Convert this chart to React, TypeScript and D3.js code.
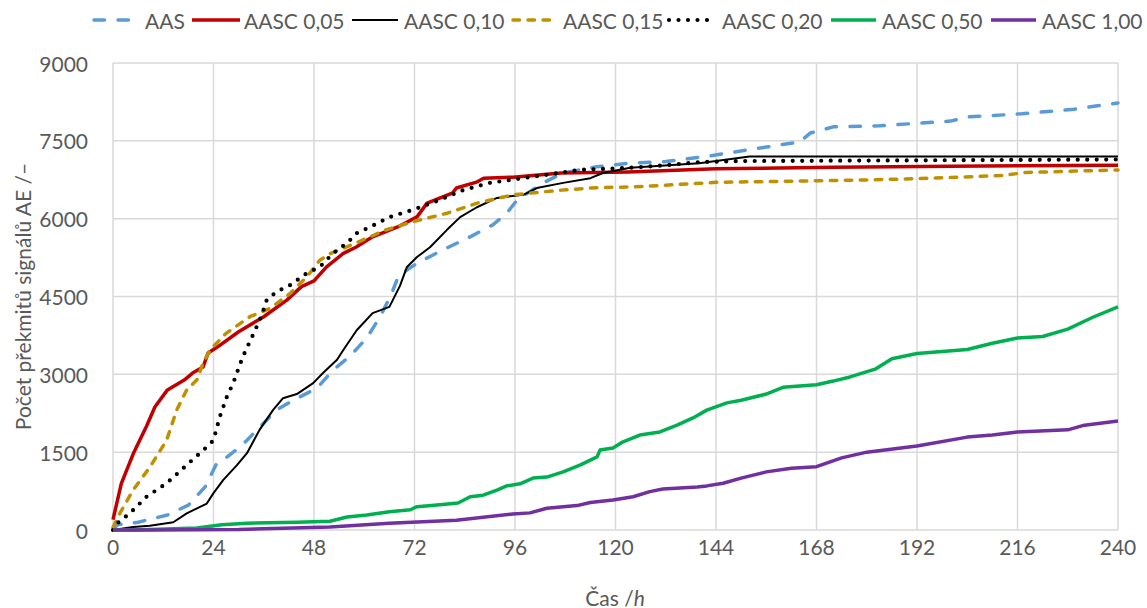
import React from "react";
import * as d3 from "d3";

const xTicks = [0, 24, 48, 72, 96, 120, 144, 168, 192, 216, 240];
const yTicks = [0, 1500, 3000, 4500, 6000, 7500, 9000];

const aas = [[0,0],[1,100],[6,150],[13,290],[18,480],[22,830],[24.8,1290],[27,1390],[30.3,1600],[32,1730],[34.4,1930],[39,2310],[43,2500],[48.7,2730],[52.5,3080],[56.6,3350],[60.6,3700],[63.8,4110],[66.5,4550],[67.8,4820],[70,5000],[72.6,5140],[78.8,5400],[85.3,5650],[90.7,5880],[94,6100],[96.5,6360],[102.7,6690],[107.5,6880],[115.5,7000],[123.5,7070],[132,7100],[142.5,7210],[148,7280],[156,7380],[164,7480],[166.5,7650],[172,7770],[183,7790],[200,7880],[204,7960],[217,8020],[229.5,8110],[240,8230]];
const aasc005 = [[0,200],[2,900],[5,1500],[8,2000],[10,2370],[13,2700],[17,2890],[19,3025],[21.5,3140],[22.7,3410],[25,3530],[30,3820],[36,4110],[41.5,4430],[45,4690],[48,4800],[51,5070],[55,5330],[58,5450],[62,5650],[68,5840],[72.6,6035],[75,6300],[81,6490],[82,6590],[87,6710],[88.5,6780],[95.5,6800],[107,6880],[123,6900],[144,6960],[172,6990],[200,7010],[240,7030]];
const aasc010 = [[0,0],[4.8,60],[8.8,80],[14.4,150],[17.6,320],[22.4,510],[24,710],[26.3,960],[29.6,1250],[32,1480],[35,1930],[38.2,2310],[40.6,2540],[43.9,2620],[47.8,2830],[50.2,3030],[53.5,3280],[55,3470],[58.2,3850],[62,4180],[66,4300],[68.5,4700],[70.2,5070],[72.6,5260],[75.7,5450],[79.7,5780],[82.9,6030],[86.9,6220],[91.7,6400],[98,6460],[101.2,6590],[107.5,6690],[114,6780],[117,6880],[123.5,6980],[140,7070],[152,7200],[240,7200]];
const aasc015 = [[0,50],[1.7,330],[4.8,770],[8.8,1210],[12.8,1730],[15.2,2310],[17.6,2700],[20,2890],[21.5,3210],[23.2,3470],[27,3790],[32.7,4110],[37.5,4270],[42.3,4560],[46.3,4880],[49.4,5200],[52,5330],[58,5530],[65,5780],[71.6,5940],[80,6110],[87,6300],[95.5,6460],[107,6550],[116,6600],[124,6610],[144,6700],[176,6740],[192,6770],[212,6830],[218,6890],[240,6940]];
const aasc020 = [[0,0],[1,130],[4,320],[8,640],[12.8,900],[18.4,1310],[22.4,1600],[24,1730],[25.5,2180],[27.2,2570],[28.7,2830],[31,3340],[33.2,3720],[35.5,4130],[36.7,4430],[39,4590],[42.3,4720],[46.3,4950],[49.4,5070],[52.5,5330],[55.9,5530],[58.2,5720],[61.4,5840],[66,6030],[71.6,6170],[78,6360],[83.6,6550],[90,6690],[99.6,6800],[111.5,6940],[123.5,6980],[132,7030],[140,7090],[150,7110],[240,7140]];
const aasc050 = [[0,0],[5,0],[20,40],[26,100],[32,130],[44,150],[51.8,170],[55.9,250],[60.6,290],[66,350],[71,390],[72.6,450],[77.4,480],[82.4,520],[85.3,640],[88.4,670],[91.7,770],[94,850],[97.2,890],[100.3,1000],[103.6,1020],[107.5,1120],[111.5,1250],[115.6,1410],[116.3,1540],[119.4,1580],[121.8,1700],[125.8,1830],[130.6,1890],[134.7,2020],[138.5,2160],[141.8,2310],[146.6,2450],[150,2500],[156,2620],[160,2750],[168,2800],[172,2870],[176,2950],[182,3100],[186,3300],[192,3400],[204,3480],[210,3600],[216,3700],[222,3730],[228,3870],[234,4100],[240,4300]];
const aasc100 = [[0,0],[10,0],[30,10],[51.8,60],[66,130],[82,190],[95.5,310],[99.6,330],[103.6,420],[110.8,470],[114,530],[119.4,580],[124.2,640],[128.2,740],[131.3,790],[139.5,830],[141.8,850],[145.7,900],[150,1000],[156,1120],[162,1190],[168,1220],[174,1390],[180,1500],[192,1620],[204,1790],[210,1830],[216,1890],[228,1930],[232,2020],[240,2100]];

const seriesNames = ["AAS", "AASC 0,05", "AASC 0,10", "AASC 0,15", "AASC 0,20", "AASC 0,50", "AASC 1,00"];
const seriesData = [aas, aasc005, aasc010, aasc015, aasc020, aasc050, aasc100];

const styles = [
  { color: "#5B9BD5", width: 3.5, dash: "10.5 13.5", cap: "round" },
  { color: "#C00000", width: 3.5, dash: null, cap: "butt" },
  { color: "#000000", width: 2, dash: null, cap: "butt" },
  { color: "#BF9000", width: 3.5, dash: "6.5 8.5", cap: "round" },
  { color: "#000000", width: 4.2, dash: "0 9.5", cap: "round" },
  { color: "#00B050", width: 3.5, dash: null, cap: "butt" },
  { color: "#7030A0", width: 3.5, dash: null, cap: "butt" },
];
const legendLayout = [
  { x1: 94, x2: 137, tx: 145 },
  { x1: 192, x2: 240, tx: 244 },
  { x1: 352, x2: 398, tx: 404 },
  { x1: 513, x2: 556, tx: 563 },
  { x1: 669, x2: 716, tx: 722 },
  { x1: 831, x2: 876, tx: 882 },
  { x1: 991, x2: 1036, tx: 1042 },
];

const FONT = "Lato, 'Open Sans', sans-serif";
const TXT = "#595959";

export default function App() {
  const W = 1147, H = 608;
  const left = 113, right = 1118, top = 63, bottom = 530;
  const x = d3.scaleLinear().domain([0, 240]).range([left, right]);
  const y = d3.scaleLinear().domain([0, 9000]).range([bottom, top]);
  const line = d3.line<number[]>().x((d) => x(d[0])).y((d) => y(d[1]));
  const legendY = 20;

  return (
    <svg width={W} height={H} style={{ position: "absolute", left: 0, top: 0, background: "#fff" }} fontFamily={FONT}>
      <rect width={W} height={H} fill="#fff" />
      {yTicks.map((t) => (
        <line key={"gy" + t} x1={left} x2={right} y1={y(t)} y2={y(t)} stroke="#D9D9D9" strokeWidth={1.5} />
      ))}
      {xTicks.map((t) => (
        <line key={"gx" + t} x1={x(t)} x2={x(t)} y1={top} y2={bottom} stroke="#D9D9D9" strokeWidth={1.5} />
      ))}
      {yTicks.map((t) => (
        <text key={"ty" + t} x={88} y={y(t)} textAnchor="end" dominantBaseline="central" fontSize={21} fill={TXT}>{t}</text>
      ))}
      {xTicks.map((t) => (
        <text key={"tx" + t} x={x(t)} y={546} textAnchor="middle" dominantBaseline="central" fontSize={21} fill={TXT}>{t}</text>
      ))}
      <text x={615} y={597} textAnchor="middle" dominantBaseline="central" fontSize={21} fill={TXT}>
        Čas /<tspan fontStyle="italic">h</tspan>
      </text>
      <text transform={`translate(22,${(top + bottom) / 2}) rotate(-90)`} textAnchor="middle" dominantBaseline="central" fontSize={21} fill={TXT}>
        Počet překmitů signálů AE /–
      </text>
      {seriesData.map((d, i) => (
        <path key={"s" + i} d={line(d) || ""} fill="none" stroke={styles[i].color} strokeWidth={styles[i].width}
          strokeDasharray={styles[i].dash || undefined} strokeLinecap={styles[i].cap as any} strokeLinejoin="round" />
      ))}
      {seriesNames.map((n, i) => (
        <g key={"l" + i}>
          <line x1={legendLayout[i].x1} x2={legendLayout[i].x2} y1={legendY} y2={legendY} stroke={styles[i].color}
            strokeWidth={styles[i].width} strokeDasharray={styles[i].dash || undefined} strokeLinecap={styles[i].cap as any} />
          <text x={legendLayout[i].tx} y={legendY} dominantBaseline="central" fontSize={21} fill={TXT}>{n}</text>
        </g>
      ))}
    </svg>
  );
}
